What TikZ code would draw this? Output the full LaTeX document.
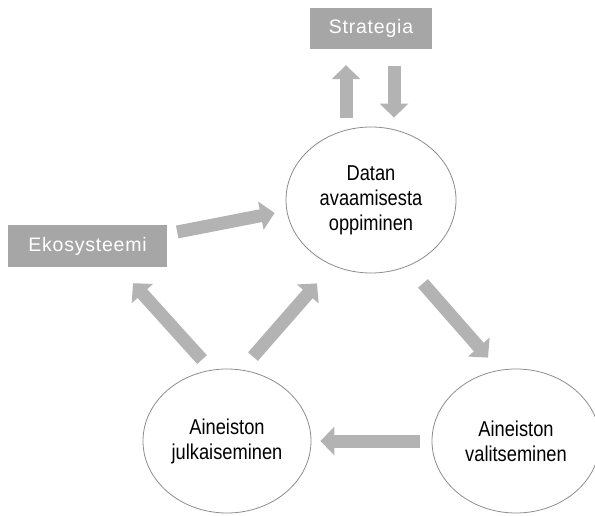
\documentclass[tikz,border=0pt]{standalone}
\usepackage{fontspec}
\setmainfont{Liberation Sans}
\newfontfamily\boxfont[LetterSpace=4]{Liberation Sans}
\newfontfamily\ovalfont[FakeStretch=0.85]{Liberation Sans}
\usetikzlibrary{shapes.geometric, arrows.meta}

\definecolor{boxgray}{HTML}{A6A6A6}
\definecolor{arrowgray}{HTML}{B3B3B3}
\definecolor{ovalgray}{HTML}{8C8C8C}

\begin{document}
\begin{tikzpicture}[x=1pt, y=1pt]
    % Setup the styles for the boxes, the phases and the arrows
    \tikzset{topic style/.style={rectangle,
                                 fill=boxgray,
                                 text=white,
                                 inner sep=0pt,
                                 font=\boxfont\fontsize{19.5}{23}\selectfont},
             phase style/.style={ellipse,
                                 draw=ovalgray,
                                 line width=0.8pt,
                                 minimum width=168pt,
                                 minimum height=144pt,
                                 inner sep=0pt,
                                 align=center,
                                 font=\ovalfont\fontsize{21.5}{25}\selectfont},
             flow/.style={draw=arrowgray,
                          line width=13pt,
                          -{Triangle[length=14pt, width=28pt]}}}

    \useasboundingbox (0, 0) rectangle (595, 515);

    % Draw the boxes
    \node[topic style, minimum width=122pt, minimum height=41pt] at (371, 486.5) (strategia)   {Strategia};
    \node[topic style, minimum width=159pt, minimum height=42pt] at (87.5, 269)  (ekosysteemi) {Ekosysteemi};

    % Draw the phases
    \node[phase style, minimum width=170pt, minimum height=146pt] at (371, 315) (oppiminen) {Datan\\avaamisesta\\oppiminen};
    \node[phase style] at (516, 74) (valitseminen) {Aineiston\\valitseminen};
    \node[phase style] at (227, 74) (julkaiseminen) {Aineiston\\julkaiseminen};

    % Connect them with block arrows
    \draw[flow, shorten <=9pt,  shorten >=16pt] ([xshift=-25pt]oppiminen.north) -- ([xshift=-25pt]strategia.south);
    \draw[flow, shorten <=17pt, shorten >=9pt]  ([xshift=23pt]strategia.south)  -- ([xshift=23pt]oppiminen.north);
    \draw[flow] ([shift={(10pt,14pt)}]ekosysteemi.east) -- ([shift={(-11pt,-13pt)}]oppiminen.west);
    \draw[flow] ([shift={(52pt,-10pt)}]oppiminen.south) -- ([shift={(-28pt,11pt)}]valitseminen.north);
    \draw[flow, shorten <=12pt, shorten >=9pt] (valitseminen) -- (julkaiseminen);
    \draw[flow] ([shift={(-25pt,9pt)}]julkaiseminen.north) -- ([shift={(45.5pt,-16pt)}]ekosysteemi.south);
    \draw[flow] ([shift={(26pt,12pt)}]julkaiseminen.north) -- ([shift={(-54pt,-10pt)}]oppiminen.south);
\end{tikzpicture}
\end{document}
